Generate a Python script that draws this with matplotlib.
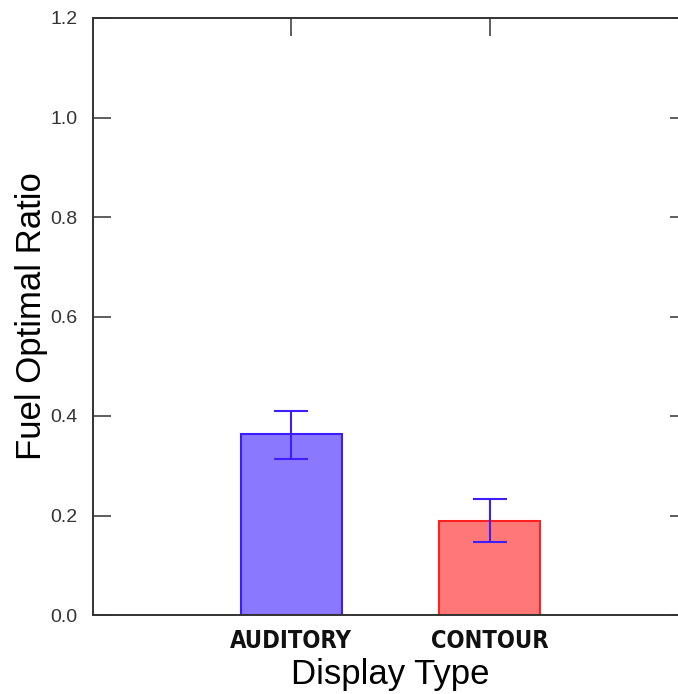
import matplotlib.pyplot as plt

categories = ["AUDITORY", "CONTOUR"]
means = [0.364, 0.189]
err_low = [0.314, 0.147]
err_high = [0.410, 0.233]
y_ticks = [0.0, 0.2, 0.4, 0.6, 0.8, 1.0, 1.2]

fill_colors = ["#8a78ff", "#ff7878"]
edge_colors = ["#3a1cff", "#ff2020"]

fig = plt.figure(figsize=(6.78, 6.94), dpi=100)
ax = fig.add_axes([93 / 678, 1 - 615 / 694, 595 / 678, 597 / 694])

x = [1, 2]
ax.bar(x, means, width=0.51, color=fill_colors, edgecolor=edge_colors, linewidth=1.5)
yerr = [[m - lo for m, lo in zip(means, err_low)],
        [hi - m for m, hi in zip(means, err_high)]]
ax.errorbar(x, means, yerr=yerr, fmt="none", ecolor="#3c1eff",
            elinewidth=1.5, capsize=12, capthick=1.5)

ax.set_xlim(0, 3)
ax.set_ylim(0, 1.2)
ax.set_yticks(y_ticks)
ax.set_yticklabels([f"{v:.1f}" for v in y_ticks], family="Liberation Sans",
                   fontsize=14, color="#333333")
ax.set_xticks(x)
ax.set_xticklabels(categories, family="DejaVu Sans", fontstretch="condensed",
                   fontweight="bold", fontsize=17, color="#111111")

for s in ax.spines.values():
    s.set_linewidth(1.4)
    s.set_color("#333333")

ax.tick_params(axis="y", direction="in", length=13, width=1.1, color="#333333",
               left=True, right=True, pad=11)
ax.tick_params(axis="x", direction="in", length=13, width=1.1, color="#333333",
               bottom=False, top=True, pad=10)

ax.set_ylabel("Fuel Optimal Ratio", family="Liberation Sans", fontsize=25, labelpad=2)
ax.set_xlabel("Display Type", family="Liberation Sans", fontsize=25, labelpad=4)

fig.savefig("out.png", dpi=100)
